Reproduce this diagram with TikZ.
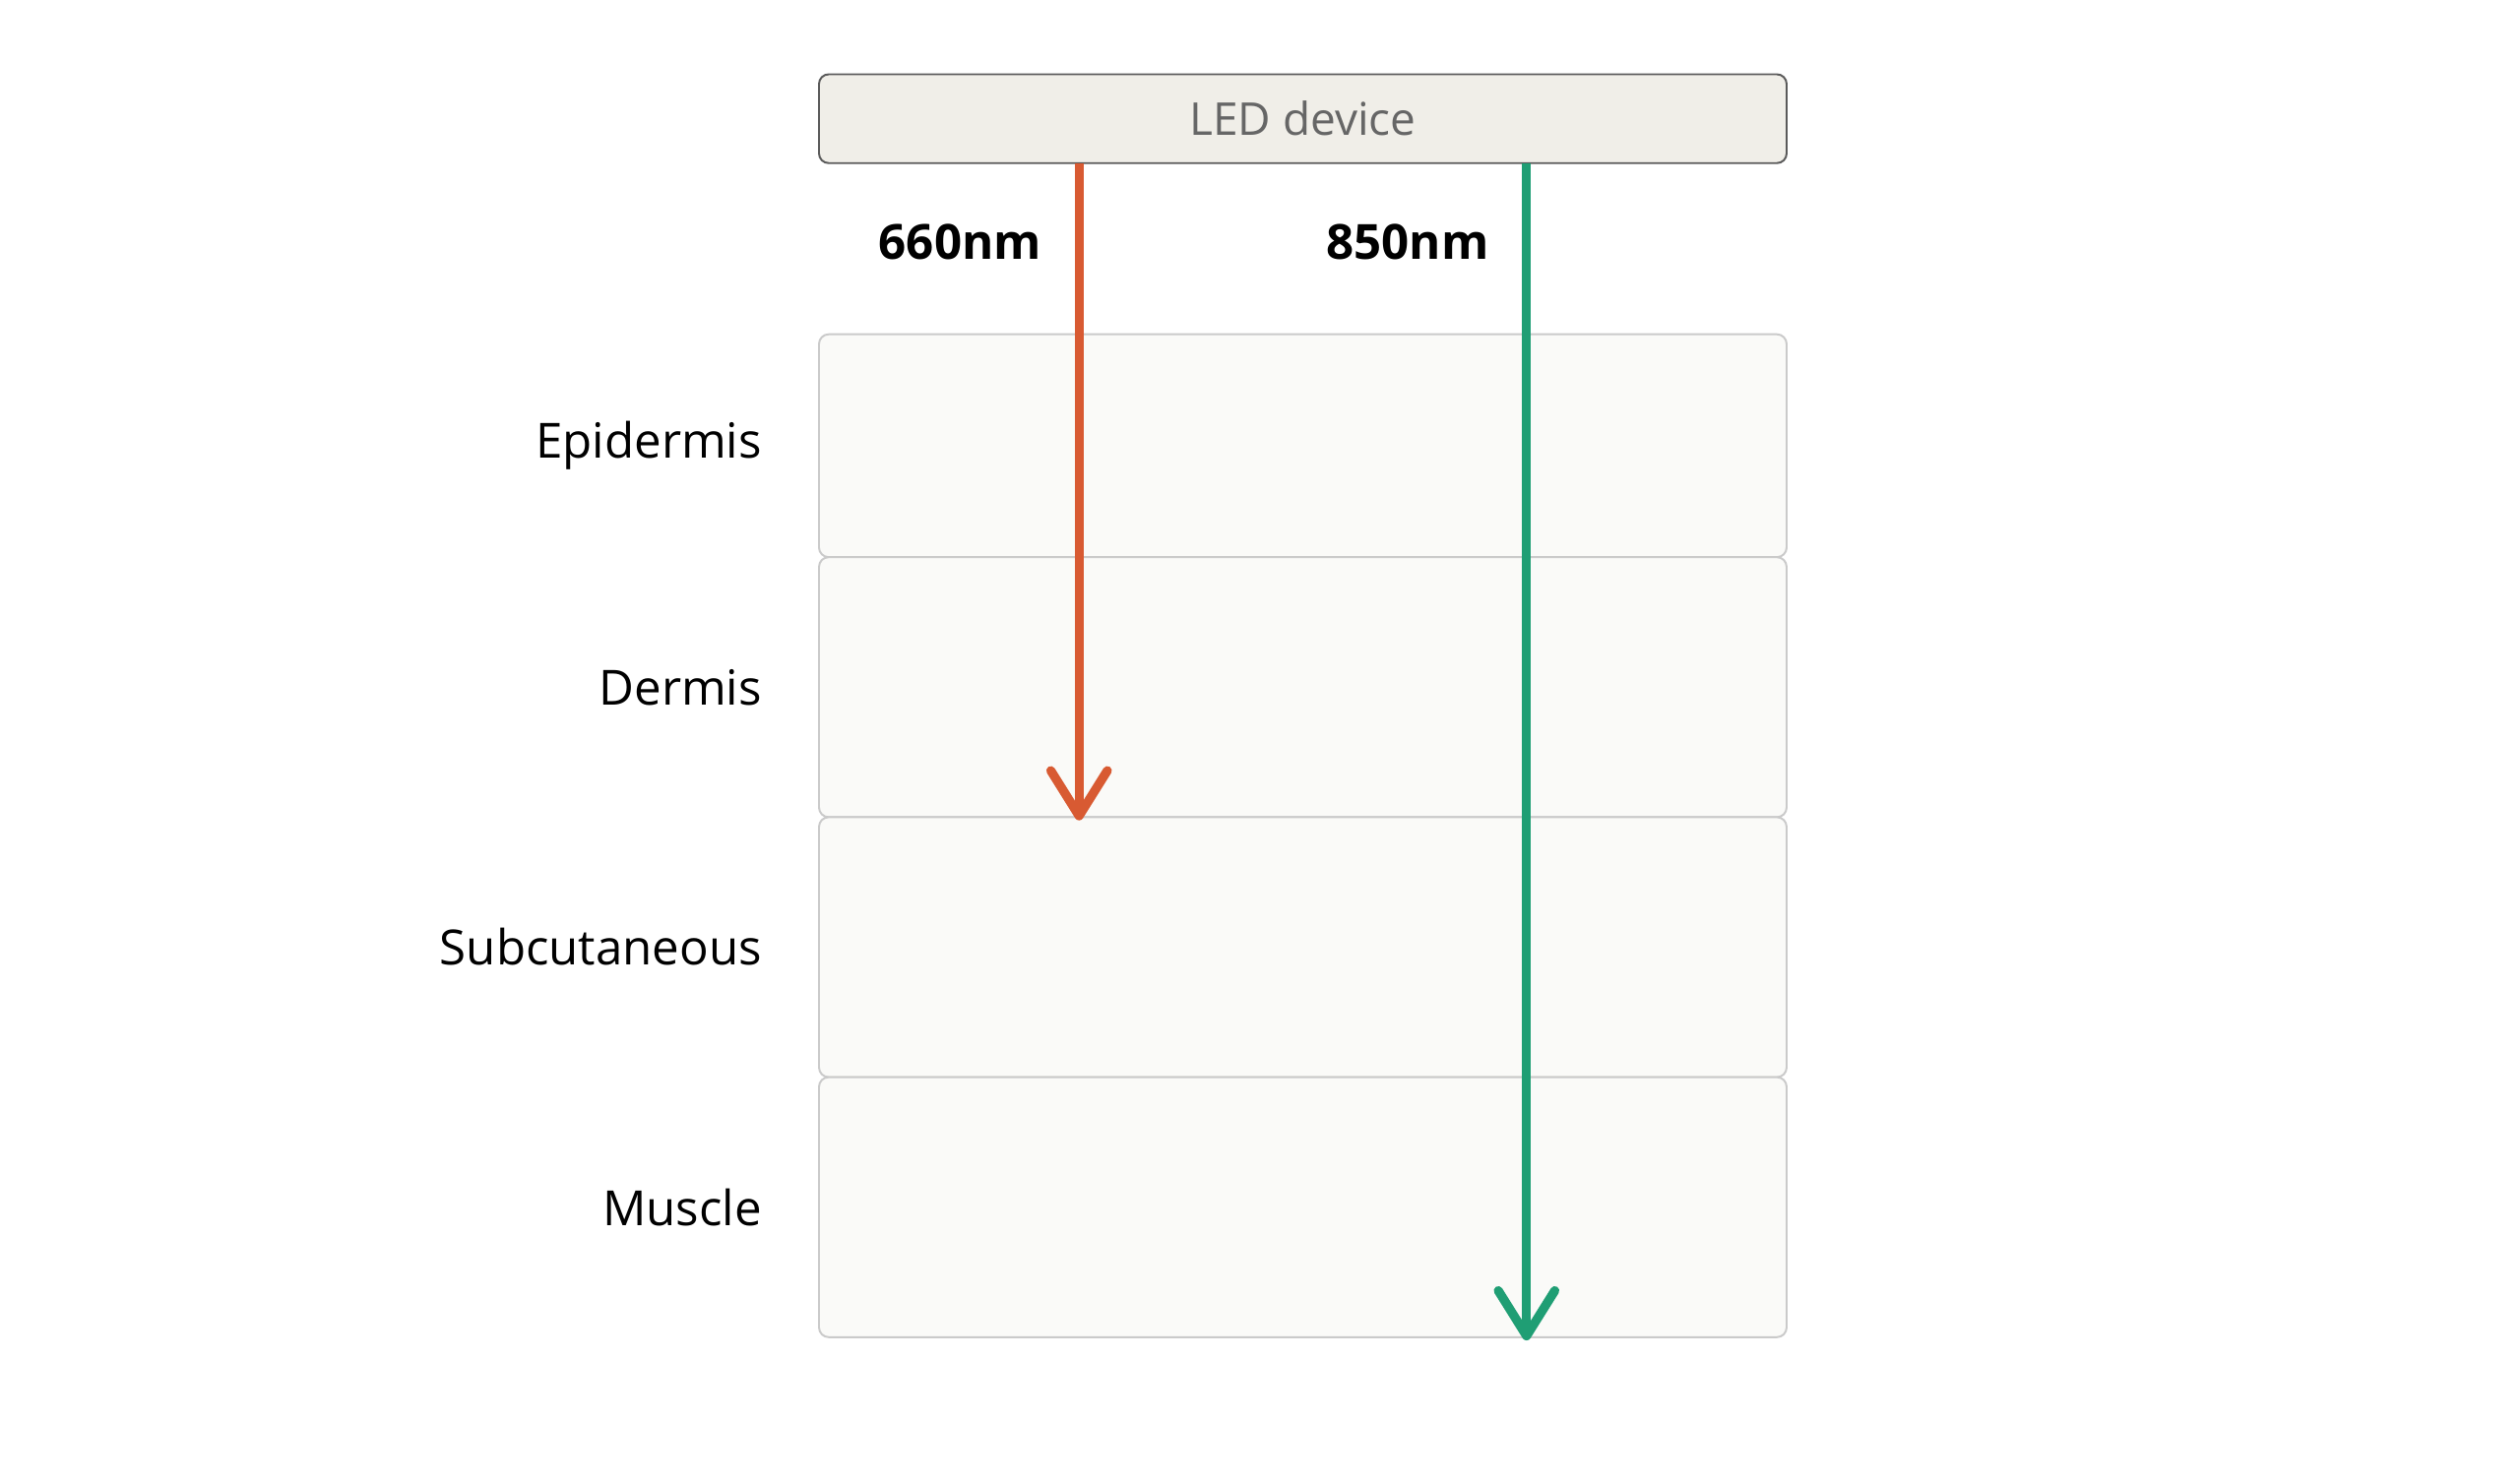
\documentclass[tikz,border=0pt]{standalone}
\usepackage{fontspec}
\setmainfont{Open Sans}
\usepackage{xcolor}
\usetikzlibrary{arrows.meta,positioning}

\definecolor{ledfill}{HTML}{F0EEE8}
\definecolor{ledline}{HTML}{5A5A5A}
\definecolor{layerfill}{HTML}{FAFAF8}
\definecolor{layerline}{HTML}{CACACA}
\definecolor{redray}{HTML}{D85A32}
\definecolor{greenray}{HTML}{1F9E74}

\tikzset{
  device/.style={draw=ledline,fill=ledfill,line width=0.6pt,rounded corners=3pt,
    minimum width=299.5pt,minimum height=27.5pt,inner sep=0pt,outer sep=0pt,
    text=black!60,font=\fontsize{14}{16}\selectfont},
  layer/.style={draw=layerline,fill=layerfill,line width=0.6pt,rounded corners=3pt,
    minimum width=299.5pt,minimum height=80.5pt,inner sep=0pt,outer sep=0pt},
  layername/.style={font=\fontsize{15}{18}\selectfont,inner sep=0pt},
  wave/.style={font=\fontsize{15}{18}\selectfont\bfseries,inner sep=0pt},
  ray/.style={line width=2.8pt,-{Straight Barb[length=14pt,width=17.5pt,round]}}
}

\begin{document}
\begin{tikzpicture}[x=1pt,y=1pt]
\useasboundingbox (0,0) rectangle (780,-459);

\node[device] (led) at (403.25,-36.75){LED device};

% skin layers
\node[layer,minimum height=69pt,below=53pt of led] (epi){};
\node[layer,below=0pt of epi] (derm){};
\node[layer,below=0pt of derm] (subq){};
\node[layer,below=0pt of subq] (musc){};

\node[layername,left=17.5pt of epi] (lepi){Epidermis};
\node[layername,left=17.5pt of derm] (lderm){Dermis};
\node[layername,left=17.5pt of subq] (lsubq){Subcutaneous};
\node[layername,left=17.5pt of musc] (lmusc){Muscle};

% light paths
\coordinate (r0) at ([xshift=80.5pt]led.south west);
\coordinate (r1) at ([xshift=80.5pt,yshift=-1pt]derm.south west);
\coordinate (g0) at ([xshift=219pt]led.south west);
\coordinate (g1) at ([xshift=219pt,yshift=-1pt]musc.south west);

\draw[ray,redray] (r0) -- (r1);
\draw[ray,greenray] (g0) -- (g1);

\node[wave,anchor=east] (w660) at ([xshift=-11.5pt,yshift=-24.5pt]r0){660nm};
\node[wave,anchor=east] (w850) at ([xshift=-11.5pt,yshift=-24.5pt]g0){850nm};
\end{tikzpicture}
\end{document}
